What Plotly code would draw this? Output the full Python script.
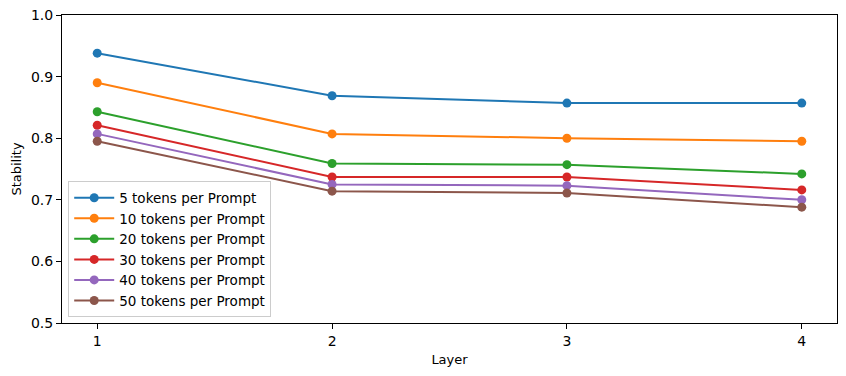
import plotly.graph_objects as go

layers = [1, 2, 3, 4]
series_names = ["5 tokens per Prompt", "10 tokens per Prompt", "20 tokens per Prompt",
                "30 tokens per Prompt", "40 tokens per Prompt", "50 tokens per Prompt"]
s5 = [0.938, 0.869, 0.857, 0.857]
s10 = [0.890, 0.807, 0.800, 0.795]
s20 = [0.843, 0.759, 0.757, 0.742]
s30 = [0.821, 0.737, 0.737, 0.716]
s40 = [0.807, 0.725, 0.723, 0.700]
s50 = [0.795, 0.714, 0.711, 0.688]
colors = ["#1f77b4", "#ff7f0e", "#2ca02c", "#d62728", "#9467bd", "#8c564b"]
y_ticks = [0.5, 0.6, 0.7, 0.8, 0.9, 1.0]

fig = go.Figure()
for name, vals, c in zip(series_names, [s5, s10, s20, s30, s40, s50], colors):
    fig.add_trace(go.Scatter(x=layers, y=vals, name=name, mode="lines+markers",
                             line=dict(color=c, width=2), marker=dict(color=c, size=9)))

axis_common = dict(showline=True, linecolor="black", linewidth=1, mirror=True,
                   ticks="outside", ticklen=5, tickcolor="black", showgrid=False,
                   zeroline=False, automargin=False, tickfont=dict(size=14, color="black"))
fig.update_xaxes(range=[0.85, 4.15], tickvals=layers, ticktext=[str(v) for v in layers],
                 title=dict(text="Layer", font=dict(size=13, color="black"), standoff=7),
                 **axis_common)
fig.update_yaxes(range=[0.5, 1.0], tickvals=y_ticks, ticktext=[f"{v:.1f}" for v in y_ticks],
                 title=dict(text="Stability", font=dict(size=13, color="black"), standoff=6),
                 **axis_common)
fig.update_layout(
    width=846, height=376,
    margin=dict(l=62, r=9, t=15, b=53),
    plot_bgcolor="white", paper_bgcolor="white",
    font=dict(family="DejaVu Sans", size=13, color="black"),
    legend=dict(x=0.008, y=0.018, xanchor="left", yanchor="bottom",
                bgcolor="rgba(255,255,255,0.8)", bordercolor="#cccccc", borderwidth=1,
                font=dict(size=13.5), itemwidth=40, tracegroupgap=0),
)
fig.write_html("out.html")
